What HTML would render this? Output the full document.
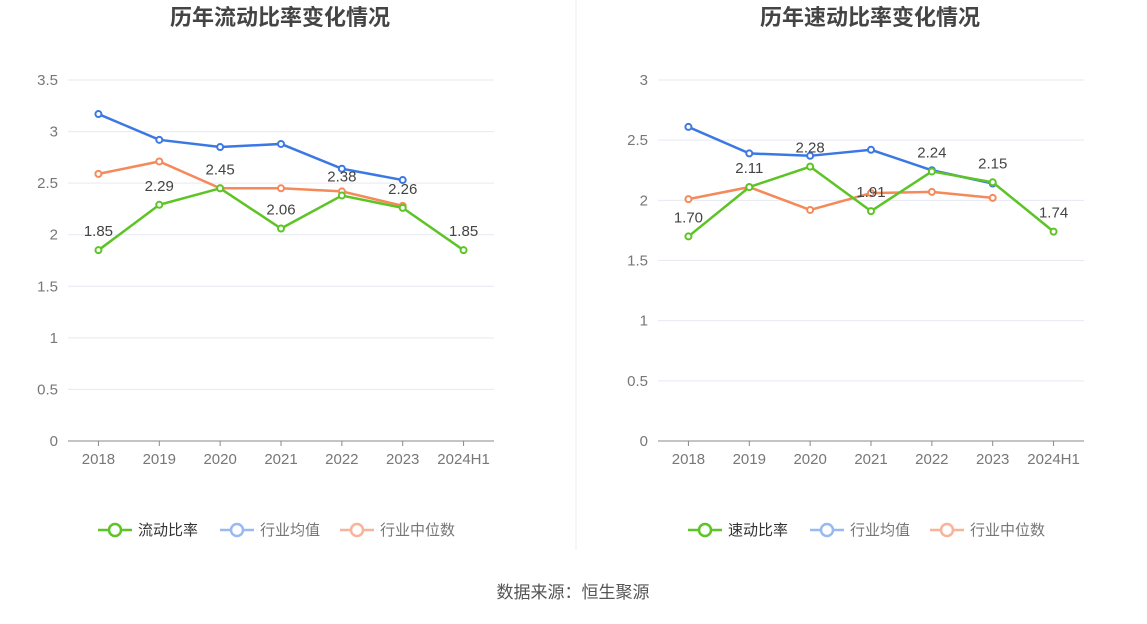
<!DOCTYPE html>
<html><head><meta charset="utf-8"><style>
body{margin:0;background:#fff;font-family:"Liberation Sans","Noto Sans CJK SC",sans-serif;}
svg text{font-family:"Liberation Sans","Noto Sans CJK SC",sans-serif;}
</style></head><body>
<svg id="s" width="1147" height="619">
<line x1="576" y1="0" x2="576" y2="550" stroke="#eee"/>
<text x="573" y="598" text-anchor="middle" font-size="17" fill="#555">数据来源：恒生聚源</text>
</svg>
<script>
const categories=["2018","2019","2020","2021","2022","2023","2024H1"];
const leftMain=[1.85,2.29,2.45,2.06,2.38,2.26,1.85];
const leftAvg=[3.17,2.92,2.85,2.88,2.64,2.53];
const leftMedian=[2.59,2.71,2.45,2.45,2.42,2.28];
const leftTicks=[0,0.5,1,1.5,2,2.5,3,3.5];
const rightMain=[1.70,2.11,2.28,1.91,2.24,2.15,1.74];
const rightAvg=[2.61,2.39,2.37,2.42,2.25,2.14];
const rightMedian=[2.01,2.11,1.92,2.06,2.07,2.02];
const rightTicks=[0,0.5,1,1.5,2,2.5,3];
const svg=document.getElementById('s');const NS="http://www.w3.org/2000/svg";
function mk(t,a,txt){const e=document.createElementNS(NS,t);for(const k in a)e.setAttribute(k,a[k]);if(txt!=null)e.textContent=txt;svg.appendChild(e);return e;}
const G="#5cc425",B="#3b78e3",O="#f5895a";
function chart(x0,title,mainName,main,avg,med,ticks){
 const w=426,top=80,bot=441,max=ticks[ticks.length-1];
 const X=i=>x0+w/categories.length*(i+0.5),Y=v=>bot-(bot-top)*v/max;
 let e=mk('text',{x:x0+212,y:25,'text-anchor':'middle','font-size':22,'font-weight':'bold',fill:'#444'},title);
 
 ticks.forEach(t=>{if(t>0){e=mk('line',{x1:x0,x2:x0+w,y1:Y(t),y2:Y(t),stroke:'#e6e9f2'});}
  e=mk('text',{x:x0-10,y:Y(t)+5,'text-anchor':'end','font-size':15,fill:'#777'},String(t));});
 e=mk('line',{x1:x0,x2:x0+w,y1:bot,y2:bot,stroke:'#888'});
 categories.forEach((c,i)=>{e=mk('line',{x1:X(i),x2:X(i),y1:bot,y2:bot+5,stroke:'#888'});
  e=mk('text',{x:X(i),y:464,'text-anchor':'middle','font-size':15,fill:'#777'},c);});
 [[avg,B,'avg'],[med,O,'median'],[main,G,'main']].forEach(([d,c,n])=>{
  e=mk('polyline',{points:d.map((v,i)=>X(i)+','+Y(v)).join(' '),fill:'none',stroke:c,'stroke-width':2.5});
  d.forEach((v,i)=>{e=mk('circle',{cx:X(i),cy:Y(v),r:3,fill:'#fff',stroke:c,'stroke-width':2});});});
 main.forEach((v,i)=>{e=mk('text',{x:X(i),y:Y(v)-14,'text-anchor':'middle','font-size':15,fill:'#444'},v.toFixed(2));});
 const lx=x0+30;[[mainName,G,'#333',0],['行业均值','#9ab9f0','#777',122],['行业中位数','#f8b49a','#777',242]].forEach(([t,c,tc,dx])=>{
  e=mk('line',{x1:lx+dx,x2:lx+dx+34,y1:530,y2:530,stroke:c,'stroke-width':2.5});
  e=mk('circle',{cx:lx+dx+17,cy:530,r:6,fill:'#fff',stroke:c,'stroke-width':2.5});
  e=mk('text',{x:lx+dx+40,y:535,'font-size':15,fill:tc},t);});
}
chart(68,'历年流动比率变化情况','流动比率',leftMain,leftAvg,leftMedian,leftTicks);
chart(658,'历年速动比率变化情况','速动比率',rightMain,rightAvg,rightMedian,rightTicks);
</script>
</body></html>
